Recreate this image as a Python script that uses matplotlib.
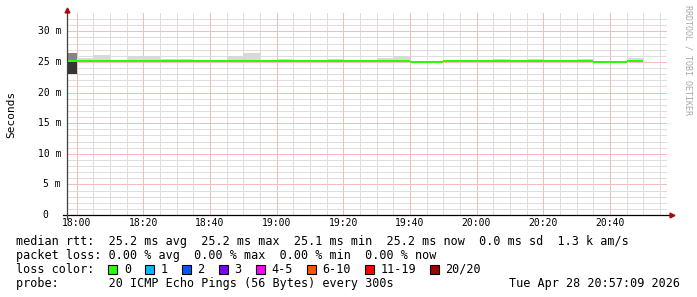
import matplotlib
matplotlib.use("Agg")
import matplotlib.pyplot as plt
from matplotlib.patches import Rectangle
from matplotlib import transforms
import numpy as np

# ---------------- data ----------------
bin_start_min = list(range(-5, 170, 5))          # minutes after 18:00, 5-min bins
median_ms = [25.2, 25.2, 25.2, 25.2, 25.2, 25.2, 25.2, 25.2, 25.2, 25.2,
             25.2, 25.2, 25.2, 25.2, 25.2, 25.2, 25.2, 25.2, 25.2, 25.2,
             25.2, 25.05, 25.05, 25.2, 25.2, 25.2, 25.2, 25.2, 25.2, 25.2,
             25.2, 25.2, 25.05, 25.05, 25.2]
smoke_top_ms = [26.4, 25.6, 26.1, 25.2, 25.9, 25.9, 25.45, 25.45, 25.2, 25.2,
                25.9, 26.4, 25.2, 25.45, 25.2, 25.2, 25.45, 25.2, 25.2, 25.7,
                25.95, 25.05, 25.05, 25.2, 25.2, 25.2, 25.45, 25.2, 25.45, 25.2,
                25.2, 25.45, 25.05, 25.05, 25.65]
smoke_bottom_ms = [23.1, 25.2, 25.2, 25.2, 25.2, 25.2, 25.2, 25.2, 25.2, 25.2,
                   25.2, 25.2, 25.2, 25.2, 25.2, 25.2, 25.2, 25.2, 25.2, 25.2,
                   25.2, 25.05, 25.05, 25.2, 25.2, 25.2, 25.2, 25.2, 25.2, 25.2,
                   25.2, 25.2, 25.05, 25.05, 25.2]
x_range_min = (-2.85, 177.15)
y_range_ms = (0, 33.0)
y_major = [0, 5, 10, 15, 20, 25, 30]
y_labels = ["0", "5 m", "10 m", "15 m", "20 m", "25 m", "30 m"]
x_major = [0, 20, 40, 60, 80, 100, 120, 140, 160]

legend_lines = [
    "median rtt:  25.2 ms avg  25.2 ms max  25.1 ms min  25.2 ms now  0.0 ms sd  1.3 k am/s",
    "packet loss: 0.00 % avg  0.00 % max  0.00 % min  0.00 % now",
]
loss_labels = ["0", "1", "2", "3", "4-5", "6-10", "11-19", "20/20"]
loss_colors = ["#26ff00", "#00b8ff", "#0059ff", "#7e00ff", "#ff00ff",
               "#ff5500", "#ff0000", "#a10000"]
probe_text = "probe:       20 ICMP Echo Pings (56 Bytes) every 300s"
date_text = "Tue Apr 28 20:57:09 2026"

# ---------------- figure ----------------
W, H = 697, 297
MONO = "DejaVu Sans Mono"
fig = plt.figure(figsize=(W / 100, H / 100), dpi=100)
fig.patch.set_facecolor("white")

def fx(px):
    return px / W

def fy(py):
    return 1 - py / H

ax = fig.add_axes([fx(67), fy(215), 600 / W, 202 / H])
ax.set_xlim(*x_range_min)
ax.set_ylim(*y_range_ms)
ax.set_facecolor("white")
for s in ax.spines.values():
    s.set_visible(False)

# grid (thin dotted look approximated by light 1px lines)
MINOR_C, MAJOR_C = "#dedede", "#f6bcbc"
gkw = dict(linewidth=0.72, linestyle="-", antialiased=False, zorder=1)
for m in range(0, 180, 5):
    if m % 20:
        ax.axvline(m, color=MINOR_C, **gkw)
for v in range(1, 33):
    if v % 5:
        ax.axhline(v, color=MINOR_C, **gkw)
for m in x_major:
    ax.axvline(m, color=MAJOR_C, **gkw)
for v in y_major[1:]:
    ax.axhline(v, color=MAJOR_C, **gkw)

ax.set_xticks(x_major)
ax.set_yticks(y_major)
ax.tick_params(which="both", length=0)
ax.tick_params(axis="x", pad=2.2, labelsize=7)
ax.set_xticklabels([f"{18 + m // 60}:{m % 60:02d}" for m in x_major], family=MONO)
ax.set_yticklabels([])

# y labels (monospace, right aligned with unit padding)
cw_axis = 0.602 * 7 * 100 / 72
for v, lab in zip(y_major, y_labels):
    padded = lab if lab.endswith("m") else lab + "  "
    off = -6 - len(padded) * cw_axis
    tr = transforms.offset_copy(ax.get_yaxis_transform(), fig=fig, x=off, y=0, units="dots")
    ax.text(0, v, padded, transform=tr, ha="left", va="center", fontsize=7,
            family=MONO, color="black")

# smoke
starts = np.array(bin_start_min, dtype=float)
med = np.array(median_ms)
top = np.array(smoke_top_ms)
bot = np.array(smoke_bottom_ms)
upper_col = ["#858585"] + ["#d9d9d9"] * (len(starts) - 1)
ax.bar(starts, top - med, bottom=med, width=5, align="edge", color=upper_col,
       linewidth=0, zorder=2)
ax.bar(starts, med - bot, bottom=bot, width=5, align="edge", color="#363636",
       linewidth=0, zorder=2)
# median
hw = 0.18
ax.bar(starts, 2 * hw, bottom=med - hw, width=5, align="edge", color="#26ff00",
       linewidth=0, zorder=3)

# axes lines with arrows
ax.plot([-4 / 600, 1 + 3 / 600], [0, 0], transform=ax.transAxes, color="black",
        lw=0.9, clip_on=False, zorder=6)
ax.plot([0, 0], [-4 / 202, 1 + 1 / 202], transform=ax.transAxes, color="#404040",
        lw=0.9, clip_on=False, zorder=6)
ax.plot([1 + 5 / 600], [0], transform=ax.transAxes, marker=">", ms=3.5,
        color="#a01010", clip_on=False, zorder=7)
ax.plot([0], [1 + 3 / 202], transform=ax.transAxes, marker="^", ms=3.5,
        color="#a01010", clip_on=False, zorder=7)

# y axis unit label
fig.text(fx(11), fy(114), "Seconds", rotation=90, ha="center", va="center",
         fontsize=8, family=MONO)

# watermark
fig.text(fx(688), fy(5), "RRDTOOL / TOBI OETIKER", rotation=270, ha="center",
         va="top", fontsize=6, family=MONO, color="#a8a8a8")

# legend text
FS = 8.5
cw = 0.602 * FS * 100 / 72
base = [244.7, 258.7, 272.7, 286.7]
for i, line in enumerate(legend_lines):
    fig.text(fx(16), fy(base[i]), line, ha="left", va="baseline", fontsize=FS, family=MONO)

fig.text(fx(16), fy(base[2]), "loss color:", ha="left", va="baseline", fontsize=FS, family=MONO)
bx = 16 + 13 * cw
for lab, col in zip(loss_labels, loss_colors):
    fig.patches.append(Rectangle((fx(bx), fy(273.5)), 9 / W, 8.5 / H,
                                 transform=fig.transFigure, facecolor=col,
                                 edgecolor="black", linewidth=0.8))
    tx = bx + 15.5
    fig.text(fx(tx), fy(base[2]), lab, ha="left", va="baseline", fontsize=FS, family=MONO)
    bx = tx + (len(lab) + 2) * cw

fig.text(fx(16), fy(base[3]), probe_text, ha="left", va="baseline", fontsize=FS, family=MONO)
fig.text(fx(680), fy(base[3]), date_text, ha="right", va="baseline", fontsize=FS, family=MONO)

fig.savefig("out.png", dpi=100, facecolor="white")
